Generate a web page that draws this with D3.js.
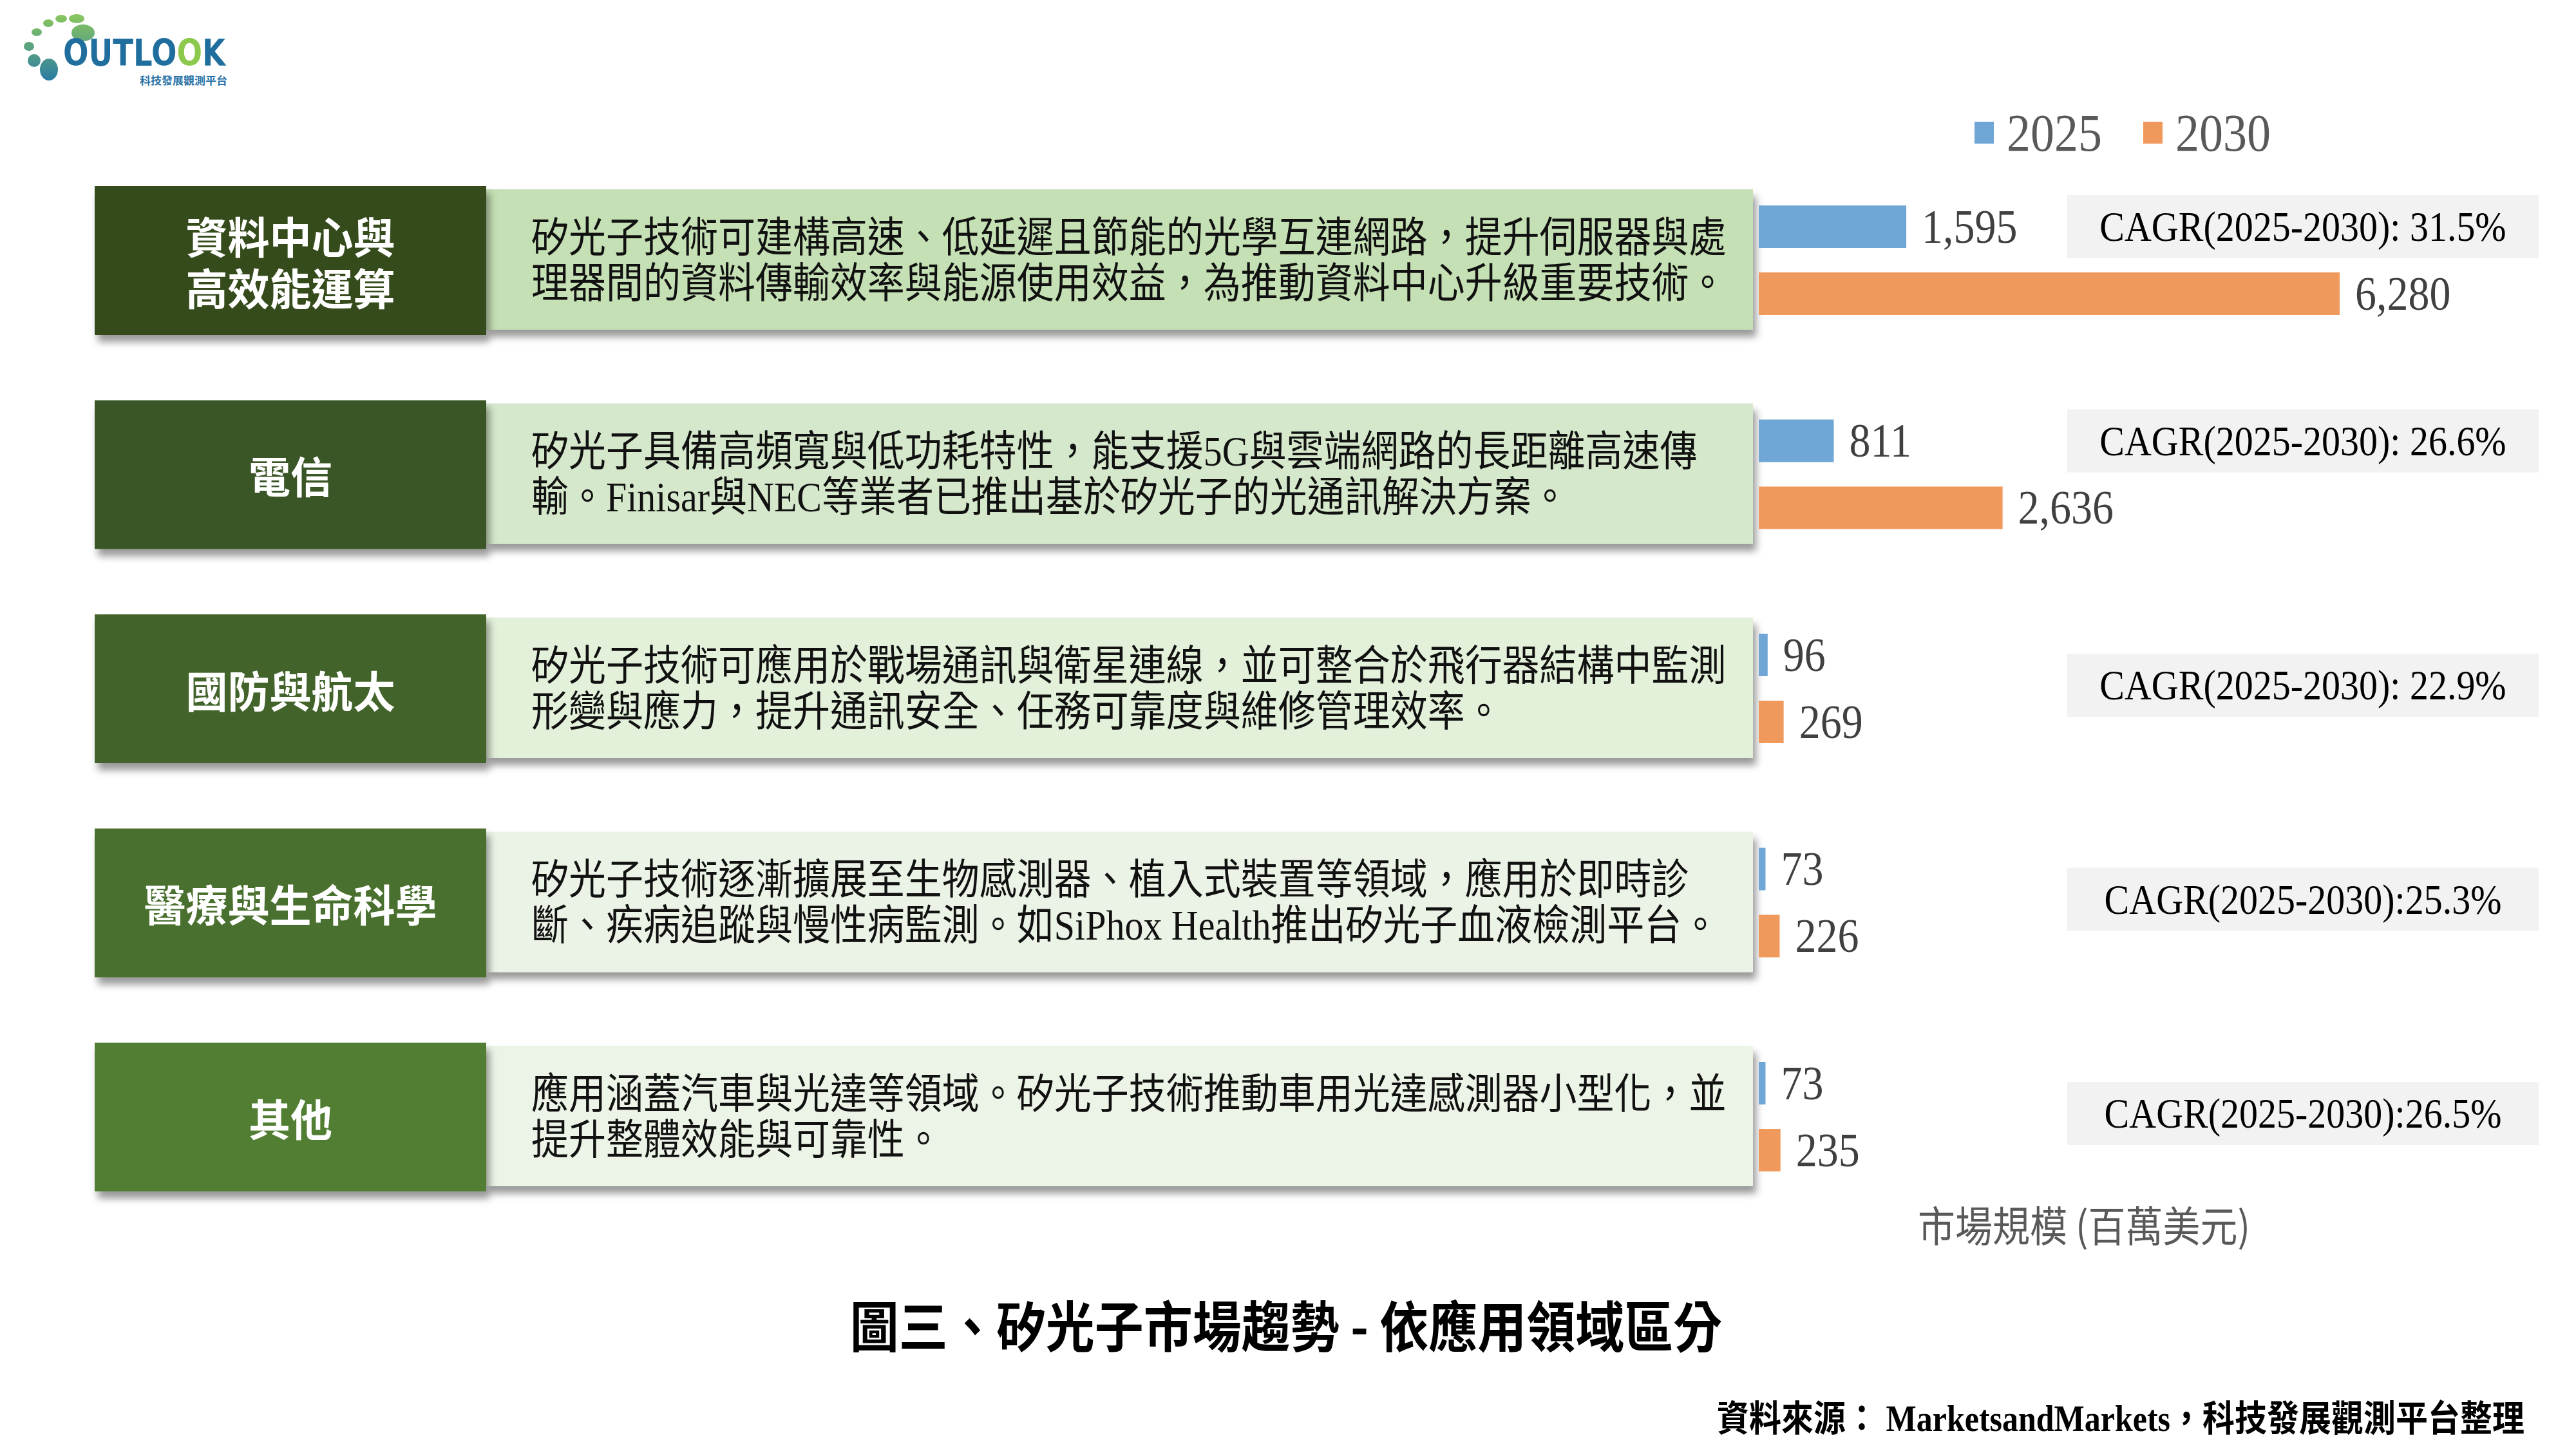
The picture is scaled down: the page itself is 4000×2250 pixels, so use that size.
<!DOCTYPE html>
<meta charset="utf-8">
<style>
body { margin: 0; background: #fff; }
svg { display: block; }
.cjk { font-family: "Noto Sans CJK TC", sans-serif; }
.mix { font-family: "Liberation Serif", "Noto Sans CJK TC", serif; }
</style>
<svg width="4000" height="2250"></svg>
<script src="https://d3js.org/d3.v7.min.js"></script>
<script>

var categories = ["資料中心與高效能運算", "電信", "國防與航太", "醫療與生命科學", "其他"];
var headings = [["資料中心與", "高效能運算"], ["電信"], ["國防與航太"], ["醫療與生命科學"], ["其他"]];
var descriptions = [
  ["矽光子技術可建構高速、低延遲且節能的光學互連網路，提升伺服器與處", "理器間的資料傳輸效率與能源使用效益，為推動資料中心升級重要技術。"],
  ["矽光子具備高頻寬與低功耗特性，能支援5G與雲端網路的長距離高速傳", "輸。Finisar與NEC等業者已推出基於矽光子的光通訊解決方案。"],
  ["矽光子技術可應用於戰場通訊與衛星連線，並可整合於飛行器結構中監測", "形變與應力，提升通訊安全、任務可靠度與維修管理效率。"],
  ["矽光子技術逐漸擴展至生物感測器、植入式裝置等領域，應用於即時診", "斷、疾病追蹤與慢性病監測。如SiPhox Health推出矽光子血液檢測平台。"],
  ["應用涵蓋汽車與光達等領域。矽光子技術推動車用光達感測器小型化，並", "提升整體效能與可靠性。"]
];
var years = ["2025", "2030"];
var values2025 = [1595, 811, 96, 73, 73];
var values2030 = [6280, 2636, 269, 226, 235];
var cagrLabels = ["CAGR(2025-2030): 31.5%", "CAGR(2025-2030): 26.6%", "CAGR(2025-2030): 22.9%",
                  "CAGR(2025-2030):25.3%", "CAGR(2025-2030):26.5%"];
var title = "圖三、矽光子市場趨勢 - 依應用領域區分";
var unitLabel = "市場規模 (百萬美元)";
var source = "資料來源： MarketsandMarkets，科技發展觀測平台整理";

var svg = d3.select("svg");
var SY = 1.12; // the source picture is stretched vertically

var darkColor = d3.scaleOrdinal(categories, ["#344b1f", "#3a5626", "#426329", "#4a6f2d", "#517e33"]);
var lightColor = d3.scaleOrdinal(categories, ["#c5e0b4", "#d5e8cb", "#e3f0da", "#ebf3e6", "#ecf4e7"]);
var yearColor = d3.scaleOrdinal(years, ["#6fa6d6", "#f0995d"]);

var y = d3.scalePoint().domain(categories).range([404, 1734]);
var x = d3.scaleLinear().domain([0, d3.max(values2030)]).range([0, 902]);
var barX = 2731, barH = 66, barOff = 52;
var fmt = d3.format(",");

var defs = svg.append("defs");
var f = defs.append("filter").attr("id", "shadow")
    .attr("x", "-5%").attr("y", "-20%").attr("width", "115%").attr("height", "150%");
f.append("feDropShadow").attr("dx", 5).attr("dy", 11).attr("stdDeviation", 6)
    .attr("flood-color", "#000").attr("flood-opacity", 0.4);

var lg = defs.append("linearGradient").attr("id", "logoGrad")
    .attr("gradientUnits", "userSpaceOnUse").attr("x1", 0).attr("y1", 20).attr("x2", 0).attr("y2", 125);
lg.append("stop").attr("offset", 0).attr("stop-color", "#8cc95c");
lg.append("stop").attr("offset", 1).attr("stop-color", "#2b7ca3");

// text drawn at (x,y) with the same vertical stretch as the source
function label(parent, tx, ty, str, cls, sy) {
  return parent.append("g")
      .attr("transform", "translate(" + tx + "," + ty + ") scale(1," + (sy || SY) + ")")
    .append("text")
      .attr("class", cls)
      .attr("dominant-baseline", "central")
      .text(str);
}

// logo
var logo = svg.append("g");
var dots = [[119,29,12,7],[95,29,9,6],[75,36,8,6],[57,50,8,6],[45,72,8,7],[53,94,10,10],[76,108,14,17],[129,51,18,13]];
logo.selectAll("ellipse").data(dots).join("ellipse")
    .attr("cx", d => d[0]).attr("cy", d => d[1]).attr("rx", d => d[2]).attr("ry", d => d[3])
    .attr("fill", "url(#logoGrad)");
var ol = logo.append("g").attr("transform", "translate(98,102) scale(1,1.25)")
  .append("text")
    .attr("font-family", "DejaVu Sans").attr("font-weight", 900).attr("font-size", 46)
    .attr("textLength", 252).attr("lengthAdjust", "spacingAndGlyphs")
    .attr("fill", "#1f6e9e");
ol.append("tspan").text("OUTLO");
ol.append("tspan").attr("fill", "#8cc84b").text("O");
ol.append("tspan").text("K");
logo.append("text")
    .attr("x", 217).attr("y", 131)
    .attr("class", "cjk").attr("font-weight", 700).attr("font-size", 16)
    .attr("textLength", 136).attr("lengthAdjust", "spacingAndGlyphs")
    .attr("fill", "#2a72a6")
    .text("科技發展觀測平台");

// legend
var legend = svg.append("g").selectAll("g").data(years).join("g")
    .attr("transform", (d, i) => "translate(" + (3066 + i * 262) + ",206)");
legend.append("rect").attr("x", 0).attr("y", -17).attr("width", 30).attr("height", 34)
    .attr("fill", d => yearColor(d));
legend.each(function(d) {
  label(d3.select(this), 50, 0, d, "mix")
      .attr("font-size", 74).attr("fill", "#595959");
});

// rows
var rows = svg.append("g").selectAll("g").data(categories).join("g")
    .attr("transform", d => "translate(0," + y(d) + ")");

rows.append("rect")
    .attr("x", 754).attr("y", -110).attr("width", 1968).attr("height", 218)
    .attr("fill", d => lightColor(d))
    .attr("filter", "url(#shadow)");
rows.append("rect")
    .attr("x", 147).attr("y", -115).attr("width", 608).attr("height", 231)
    .attr("fill", d => darkColor(d))
    .attr("filter", "url(#shadow)");

rows.each(function(d, i) {
  var row = d3.select(this);
  var h = headings[i];
  var hsy = 1.04, hgap = 80;
  var ht = label(row, 451, -(h.length - 1) / 2 * hgap, "", "cjk", hsy)
      .attr("text-anchor", "middle").attr("font-size", 65)
      .attr("font-weight", 700).attr("fill", "#fff");
  ht.selectAll("tspan").data(h).join("tspan")
      .attr("x", 0)
      .attr("dy", (l, j) => j ? hgap / hsy : 0)
      .text(l => l);

  descriptions[i].forEach(function(line, j) {
    label(row, 825, (j - 0.5) * 71, line, "mix")
        .attr("font-size", 58).attr("fill", "#111");
  });

  var vals = [values2025[i], values2030[i]];
  vals.forEach(function(v, j) {
    var cy = (j === 0 ? -barOff : barOff);
    row.append("rect")
        .attr("x", barX).attr("y", cy - barH / 2)
        .attr("width", x(v)).attr("height", barH)
        .attr("fill", yearColor(years[j]));
    label(row, barX + x(v) + 24, cy, fmt(v), "mix")
        .attr("font-size", 66).attr("fill", "#404040");
  });

  // CAGR box moves up to the 2025 bar level when the 2030 bar reaches under it
  var boxX = 3210;
  var by = (barX + x(values2030[i]) + 170 > boxX) ? -barOff : -5;
  row.append("rect")
      .attr("x", boxX).attr("y", by - 49).attr("width", 732).attr("height", 98)
      .attr("fill", "#f2f2f2");
  label(row, boxX + 366, by, cagrLabels[i], "mix")
      .attr("text-anchor", "middle").attr("font-size", 58).attr("fill", "#000");
});

label(svg, 3236, 1900, unitLabel, "cjk")
    .attr("text-anchor", "middle").attr("font-size", 58).attr("fill", "#595959");

label(svg, 1997, 2055, title, "cjk")
    .attr("text-anchor", "middle").attr("font-size", 76).attr("font-weight", 700).attr("fill", "#000");

label(svg, 3920, 2203, source, "mix")
    .attr("text-anchor", "end").attr("font-size", 50).attr("font-weight", 700).attr("fill", "#000");

</script>
